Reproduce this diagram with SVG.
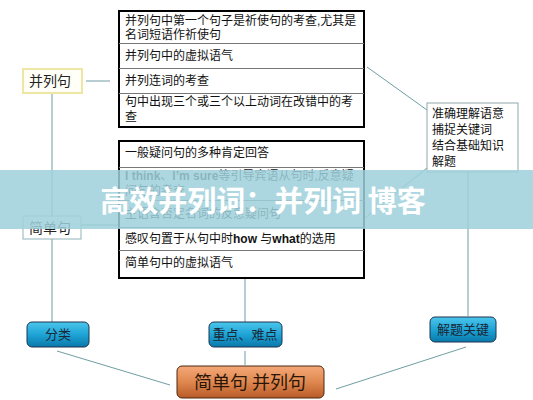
<svg xmlns="http://www.w3.org/2000/svg" width="533" height="400" viewBox="0 0 533 400">
<defs>
<linearGradient id="blue" x1="0" y1="0" x2="0" y2="1">
<stop offset="0" stop-color="#4cc6ec"/>
<stop offset="0.5" stop-color="#1ea4d6"/>
<stop offset="1" stop-color="#0a78aa"/>
</linearGradient>
<linearGradient id="orange" x1="0" y1="0" x2="0" y2="1">
<stop offset="0" stop-color="#f4a878"/>
<stop offset="0.5" stop-color="#e08850"/>
<stop offset="1" stop-color="#b85a28"/>
</linearGradient>
<style>
.t{font-family:"Liberation Sans","Noto Sans CJK SC",sans-serif;font-size:12px;fill:#111}
.lab{font-family:"Noto Sans CJK SC",sans-serif;font-size:14px;fill:#222}
.nb{font-family:"Noto Sans CJK SC",sans-serif;font-size:13px;fill:#1a2838;text-anchor:middle}
.outer{fill:#fff;stroke:#000;stroke-width:2}
.sep{stroke:#777;stroke-width:1}
.conn{stroke:#6f9ea4;stroke-width:1;fill:none}
.blue{fill:url(#blue);stroke:#1c3550;stroke-width:1}
</style>
</defs>
<rect width="533" height="400" fill="#fff"/>
<g id="connectors">
<line class="conn" x1="86" y1="81" x2="110" y2="81"/>
<line class="conn" x1="52" y1="93" x2="52" y2="216"/>
<line class="conn" x1="81" y1="225" x2="119" y2="225"/>
<line class="conn" x1="52" y1="239" x2="52" y2="322"/>
<line class="conn" x1="245" y1="279" x2="245" y2="322"/>
<line class="conn" x1="245" y1="351" x2="245" y2="365"/>
<line class="conn" x1="367" y1="67" x2="427" y2="110"/>
<line class="conn" x1="365" y1="218" x2="427" y2="168"/>
<line class="conn" x1="468" y1="172" x2="468" y2="316"/>
<line class="conn" x1="57" y1="351" x2="170" y2="385"/>
<line class="conn" x1="466" y1="347" x2="336" y2="389"/>
</g>
<g id="table-top">
<rect class="outer" x="119" y="11" width="245" height="116"/>
<line class="sep" x1="119" y1="43.5" x2="364" y2="43.5" stroke="#333"/>
<line class="sep" x1="119" y1="68.5" x2="364" y2="68.5" stroke="#333"/>
<line class="sep" x1="119" y1="93.5" x2="364" y2="93.5"/>
<text class="t" x="125" y="25">并列句中第一个句子是祈使句的考查,尤其是</text>
<text class="t" x="125" y="39">名词短语作祈使句</text>
<text class="t" x="125" y="60">并列句中的虚拟语气</text>
<text class="t" x="125" y="85">并列连词的考查</text>
<text class="t" x="125" y="106">句中出现三个或三个以上动词在改错中的考</text>
<text class="t" x="125" y="121">查</text>
</g>
<g id="table-bottom">
<rect class="outer" x="119" y="141" width="245" height="137"/>
<line class="sep" x1="119" y1="167.5" x2="364" y2="167.5"/>
<line class="sep" x1="119" y1="200.5" x2="364" y2="200.5"/>
<line class="sep" x1="119" y1="227.5" x2="364" y2="227.5"/>
<line class="sep" x1="119" y1="250.5" x2="364" y2="250.5"/>
<text class="t" x="125" y="157">一般疑问句的多种肯定回答</text>
<text class="t" x="125" y="180"><tspan font-weight="bold">I think</tspan>、<tspan font-weight="bold">I’m sure</tspan>等引导宾语从句时,反意疑</text>
<text class="t" x="125" y="195">问句的考查</text>
<text class="t" x="125" y="218">主语含否定名词的反意疑问句</text>
<text class="t" x="125" y="243">感叹句置于从句中时<tspan font-weight="bold">how </tspan>与<tspan font-weight="bold">what</tspan>的选用</text>
<text class="t" x="125" y="267">简单句中的虚拟语气</text>
</g>
<g id="node-binglieju">
<rect x="23" y="69" width="59" height="24" fill="#fffff8" stroke="#efe6a6" stroke-width="2"/>
<text class="lab" x="29" y="86">并列句</text>
</g>
<g id="node-jiandanju">
<rect x="23" y="216" width="58" height="23" fill="#fff" stroke="#8fb3ba" stroke-width="1"/>
<text class="lab" x="29" y="233">简单句</text>
</g>
<g id="node-jieti">
<rect x="427" y="103" width="91" height="69" fill="#fff" stroke="#8fa8ac" stroke-width="1"/>
<text class="t" x="432" y="118" font-size="13">准确理解语意</text>
<text class="t" x="432" y="134" font-size="13">捕捉关键词</text>
<text class="t" x="432" y="150" font-size="13">结合基础知识</text>
<text class="t" x="432" y="166" font-size="13">解题</text>
</g>
<g id="node-fenlei">
<rect class="blue" x="27" y="322" width="62" height="25" rx="5"/>
<text class="nb" x="58" y="339">分类</text>
</g>
<g id="node-zhongdian">
<rect class="blue" x="209" y="322" width="73" height="25" rx="5"/>
<text class="nb" x="245" y="339">重点、难点</text>
</g>
<g id="node-jietiguanjian">
<rect class="blue" x="430" y="317" width="66" height="25" rx="5"/>
<text class="nb" x="463" y="334">解题关键</text>
</g>
<g id="node-root">
<rect x="177" y="366" width="147" height="32" rx="5" fill="url(#orange)" stroke="#4a2810" stroke-width="1"/>
<text x="250" y="389" font-family="Noto Sans CJK SC,sans-serif" font-size="18" fill="#2a1608" text-anchor="middle">简单句 并列句</text>
</g>
<g id="watermark">
<rect x="0" y="170" width="533" height="59" fill="#9fd0db" fill-opacity="0.85"/>
<text x="263" y="212" font-family="Noto Sans CJK SC,sans-serif" font-size="29" font-weight="bold" fill="#fff" text-anchor="middle">高效并列词：并列词 博客</text>
</g>
</svg>
